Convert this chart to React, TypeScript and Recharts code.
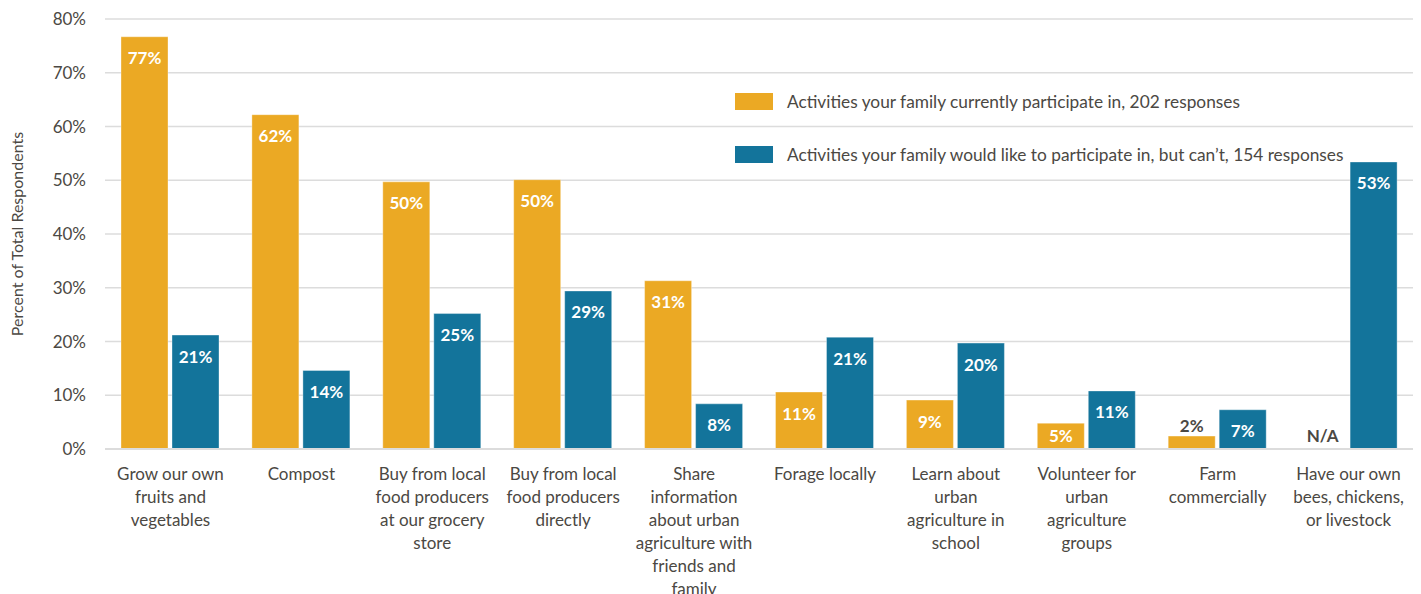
import React from "react";
import { BarChart, Bar, XAxis, YAxis, CartesianGrid, LabelList, Customized } from "recharts";

const categories = [
  "Grow our own\nfruits and\nvegetables",
  "Compost",
  "Buy from local\nfood producers\nat our grocery\nstore",
  "Buy from local\nfood producers\ndirectly",
  "Share\ninformation\nabout urban\nagriculture with\nfriends and\nfamily",
  "Forage locally",
  "Learn about\nurban\nagriculture in\nschool",
  "Volunteer for\nurban\nagriculture\ngroups",
  "Farm\ncommercially",
  "Have our own\nbees, chickens,\nor livestock",
];
const currentValues = [76.7, 62.2, 49.7, 50.1, 31.3, 10.6, 9.1, 4.8, 2.4, 0];
const currentLabels = ["77%", "62%", "50%", "50%", "31%", "11%", "9%", "5%", "2%", "N/A"];
const wishValues = [21.2, 14.6, 25.2, 29.4, 8.4, 20.8, 19.7, 10.8, 7.3, 53.4];
const wishLabels = ["21%", "14%", "25%", "29%", "8%", "21%", "20%", "11%", "7%", "53%"];
const yTicks = [0, 10, 20, 30, 40, 50, 60, 70, 80];
const seriesNames = [
  "Activities your family currently participate in, 202 responses",
  "Activities your family would like to participate in, but can\u2019t, 154 responses",
];

const ORANGE = "#EBA924";
const BLUE = "#13749B";
const TEXT = "#4b4843";
const GRID = "#dcdcdc";
const FONT = "Lato, 'Noto Sans', sans-serif";
const BAR_SIZE = 47;
const BAR_GAP = 4;

const data = categories.map((c, i) => ({
  category: c,
  current: currentValues[i],
  wish: wishValues[i],
  currentLabel: currentLabels[i],
  wishLabel: wishLabels[i],
}));

const CategoryTick = (props: any) => {
  const { x, y, payload } = props;
  const lines = String(payload.value).split("\n");
  return (
    <text
      x={x}
      y={y + 16}
      textAnchor="middle"
      fill={TEXT}
      fontSize={17}
      fontFamily={FONT}
      dominantBaseline="central"
    >
      {lines.map((l, i) => (
        <tspan key={i} x={x} dy={i === 0 ? 0 : 23}>
          {l}
        </tspan>
      ))}
    </text>
  );
};

const valueText = (cx: number, cy: number, value: string, color: string) => (
  <text
    x={cx}
    y={cy}
    textAnchor="middle"
    dominantBaseline="central"
    fill={color}
    fontSize={17}
    fontWeight={700}
    fontFamily={FONT}
  >
    {value}
  </text>
);

const CurrentLabel = (props: any) => {
  const { x, y, width, height, value } = props;
  if (!height) return null;
  if (height < 18) return valueText(x + width / 2, y - 11, value, TEXT);
  return valueText(x + width / 2, Math.min(y + 21, y + height - 14), value, "#ffffff");
};

const WishLabel = (props: any) => {
  const { x, y, width, height, value, index } = props;
  const base = y + height;
  const own = height < 18
    ? valueText(x + width / 2, y - 11, value, TEXT)
    : valueText(x + width / 2, Math.min(y + 21, y + height - 14), value, "#ffffff");
  const paired = currentValues[index] === 0
    ? valueText(x - BAR_GAP - width / 2, base - 14, currentLabels[index], TEXT)
    : null;
  return (
    <g>
      {own}
      {paired}
    </g>
  );
};

const LegendBlock = () => {
  const colors = [ORANGE, BLUE];
  return (
    <g>
      {seriesNames.map((name, i) => (
        <g key={i}>
          <rect x={727} y={85 + i * 53} width={38} height={17} fill={colors[i]} />
          <text
            x={779}
            y={93.5 + i * 53}
            fill={TEXT}
            fontSize={17.3}
            fontFamily={FONT}
            dominantBaseline="central"
          >
            {name}
          </text>
        </g>
      ))}
    </g>
  );
};

export default function App() {
  return (
    <div style={{ width: 1413, height: 586 }}>
      <BarChart
        width={1413}
        height={586}
        data={data}
        margin={{ top: 11, right: 7, bottom: 0, left: 0 }}
        barSize={BAR_SIZE}
        barGap={BAR_GAP}
      >
        <CartesianGrid vertical={false} stroke={GRID} strokeWidth={1.5} />
        <XAxis
          dataKey="category"
          interval={0}
          height={145}
          tickLine={false}
          axisLine={{ stroke: GRID, strokeWidth: 2 }}
          tick={<CategoryTick />}
        />
        <YAxis
          width={97}
          domain={[0, 80]}
          ticks={yTicks}
          tickFormatter={(v: number) => `${v}%`}
          axisLine={false}
          tickLine={false}
          tickSize={0}
          tickMargin={19}
          tick={{ fill: TEXT, fontSize: 17, fontFamily: FONT }}
          label={{
            value: "Percent of Total Respondents",
            angle: -90,
            position: "insideLeft",
            offset: 9,
            style: { textAnchor: "middle", fill: TEXT, fontSize: 16, fontFamily: FONT },
          }}
        />
        <Bar dataKey="current" fill={ORANGE} stroke="#ffffff" strokeOpacity={0.35} isAnimationActive={false}>
          <LabelList dataKey="currentLabel" content={<CurrentLabel />} />
        </Bar>
        <Bar dataKey="wish" fill={BLUE} stroke="#ffffff" strokeOpacity={0.35} isAnimationActive={false}>
          <LabelList dataKey="wishLabel" content={<WishLabel />} />
        </Bar>
        <Customized component={<LegendBlock />} />
      </BarChart>
    </div>
  );
}
